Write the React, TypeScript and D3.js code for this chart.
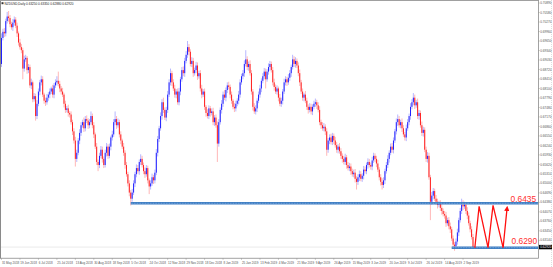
import React from "react";
import * as d3 from "d3";

// ---- data (prices in pips, i.e. price * 10000) ----
const title = "NZDUSD,Daily  0.63250 0.63350 0.62880 0.62920";
const firstOpen = 6890;
const closes = [
  6975, 6995, 6990, 7030, 7045, 7040, 7020, 7010, 7025, 7035,
  7015, 6990, 6960, 6945, 6935, 6875, 6905, 6910, 6870, 6880,
  6820, 6830, 6775, 6785, 6720, 6760, 6800, 6830, 6840, 6790,
  6770, 6765, 6780, 6790, 6800, 6810, 6790, 6820, 6830, 6835,
  6825, 6810, 6800, 6790, 6760, 6740, 6745, 6730, 6725, 6700,
  6670, 6640, 6580, 6600, 6640, 6665, 6690, 6700, 6680, 6710,
  6705, 6690, 6700, 6720, 6690, 6660, 6620, 6570, 6560, 6590,
  6610, 6580, 6560, 6600, 6620, 6590, 6620, 6650, 6660, 6700,
  6710, 6690, 6700, 6660, 6640, 6620, 6600, 6560, 6530, 6500,
  6470, 6450, 6470, 6500, 6530, 6550, 6540, 6570, 6580, 6560,
  6540, 6530, 6550, 6510, 6490, 6500, 6520, 6510, 6535, 6600,
  6645, 6680, 6720, 6765, 6740, 6715, 6740, 6790, 6830, 6860,
  6830, 6810, 6790, 6800, 6765, 6800, 6840, 6870, 6860, 6900,
  6920, 6945, 6930, 6890, 6900, 6860, 6870, 6885, 6850, 6860,
  6810, 6790, 6800, 6750, 6730, 6720, 6745, 6730, 6735, 6700,
  6715, 6690, 6630, 6700, 6740, 6760, 6790, 6780, 6805, 6820,
  6815, 6790, 6770, 6750, 6745, 6760, 6770, 6790, 6830, 6850,
  6860, 6890, 6905, 6880, 6890, 6860, 6800, 6750, 6735, 6745,
  6770, 6790, 6810, 6835, 6850, 6865, 6840, 6865, 6880, 6890,
  6870, 6830, 6815, 6800, 6810, 6780, 6760, 6770, 6800, 6830,
  6840, 6830, 6845, 6860, 6880, 6905, 6890, 6900, 6885, 6860,
  6830, 6800, 6780, 6790, 6770, 6750, 6740, 6750, 6735, 6750,
  6760, 6765, 6755, 6740, 6700, 6690, 6680, 6685, 6670, 6610,
  6640, 6650, 6635, 6655, 6640, 6625, 6610, 6620, 6605, 6590,
  6580, 6570, 6585, 6560, 6550, 6555, 6540, 6530, 6535, 6515,
  6505, 6520, 6530, 6515, 6525, 6545, 6540, 6560, 6570, 6560,
  6555, 6575, 6590, 6580, 6565, 6545, 6520, 6505, 6495, 6510,
  6540, 6560, 6580, 6600, 6620, 6610, 6640, 6670, 6700, 6710,
  6690, 6700, 6680, 6660, 6650, 6680, 6700, 6720, 6750, 6765,
  6780, 6755, 6765, 6720, 6730, 6690, 6665, 6675, 6610, 6580,
  6590, 6520, 6440, 6460, 6475, 6450, 6440, 6430, 6435, 6420,
  6410, 6400, 6395, 6370, 6380, 6360, 6350, 6320, 6300, 6295,
  6310, 6340, 6380, 6410, 6430, 6425, 6430, 6410, 6395, 6370,
  6350, 6325, 6292,
];
const upWick = [
  15, 10, 12, 8, 15, 18, 10, 8, 12, 10,
  8, 10, 6, 12, 10, 8, 12, 10, 6, 10,
  8, 12, 6, 10, 8, 12, 10, 8, 12, 10,
  6, 10, 12, 8, 10, 6, 12, 8, 10, 15,
  30, 10, 8, 12, 6, 10, 8, 12, 6, 10,
  8, 10, 12, 10, 8, 12, 10, 8, 15, 10,
  12, 8, 10, 15, 8, 10, 6, 12, 8, 10,
  12, 10, 8, 10, 12, 8, 10, 6, 12, 10,
  25, 10, 12, 8, 10, 6, 12, 8, 10, 8,
  10, 8, 12, 10, 8, 12, 10, 8, 15, 10,
  8, 12, 10, 8, 6, 10, 12, 8, 10, 12,
  10, 8, 12, 10, 15, 8, 10, 12, 10, 15,
  8, 10, 12, 8, 10, 12, 8, 10, 12, 10,
  12, 20, 10, 8, 12, 10, 8, 12, 10, 8,
  10, 12, 8, 10, 6, 12, 10, 8, 10, 12,
  8, 10, 12, 10, 8, 12, 10, 15, 8, 10,
  12, 8, 10, 6, 12, 10, 8, 12, 10, 8,
  10, 12, 30, 10, 8, 12, 10, 8, 12, 10,
  8, 10, 12, 8, 10, 12, 10, 8, 12, 10,
  8, 10, 12, 8, 10, 6, 12, 10, 8, 12,
  10, 8, 12, 10, 8, 15, 10, 12, 8, 10,
  12, 8, 10, 6, 12, 10, 8, 12, 10, 8,
  10, 12, 8, 10, 12, 8, 10, 12, 8, 10,
  8, 10, 12, 10, 8, 12, 10, 8, 12, 10,
  8, 10, 12, 8, 10, 12, 10, 8, 10, 12,
  8, 10, 12, 10, 8, 12, 10, 8, 12, 10,
  8, 12, 10, 8, 10, 12, 8, 10, 12, 10,
  8, 10, 12, 8, 10, 12, 10, 8, 12, 15,
  10, 8, 12, 10, 8, 12, 10, 8, 12, 10,
  15, 10, 8, 12, 10, 8, 12, 10, 8, 10,
  12, 10, 8, 12, 10, 8, 12, 10, 8, 10,
  12, 8, 10, 12, 8, 10, 12, 8, 10, 8,
  10, 12, 8, 10, 20, 15, 10, 8, 12, 10,
  8, 10, 10,
];
const downWick = [
  10, 8, 12, 10, 8, 12, 10, 8, 12, 10,
  8, 12, 10, 8, 10, 35, 10, 8, 12, 10,
  8, 12, 10, 8, 15, 10, 8, 12, 10, 8,
  10, 12, 8, 10, 12, 8, 10, 12, 8, 10,
  8, 12, 10, 8, 12, 10, 8, 12, 10, 8,
  12, 10, 25, 10, 8, 12, 10, 8, 12, 10,
  8, 12, 10, 8, 10, 12, 8, 10, 20, 10,
  8, 12, 10, 8, 12, 10, 8, 12, 10, 8,
  10, 12, 8, 10, 12, 8, 10, 12, 8, 10,
  12, 22, 10, 8, 12, 10, 8, 12, 10, 8,
  10, 12, 8, 10, 25, 10, 8, 12, 10, 8,
  12, 10, 8, 12, 10, 8, 12, 10, 8, 10,
  12, 8, 10, 12, 8, 10, 12, 8, 10, 12,
  8, 10, 12, 8, 10, 12, 8, 10, 12, 8,
  10, 12, 8, 10, 12, 8, 10, 12, 8, 10,
  12, 8, 60, 10, 8, 12, 10, 8, 12, 10,
  8, 12, 10, 8, 12, 10, 8, 12, 10, 8,
  10, 12, 8, 10, 12, 8, 10, 12, 8, 10,
  12, 8, 10, 12, 8, 10, 30, 8, 10, 12,
  8, 10, 12, 8, 10, 12, 8, 10, 12, 8,
  10, 12, 8, 10, 12, 8, 10, 12, 8, 10,
  12, 8, 10, 12, 8, 10, 12, 8, 10, 12,
  8, 10, 12, 8, 10, 12, 8, 10, 12, 20,
  10, 12, 8, 10, 12, 8, 10, 12, 8, 10,
  12, 8, 10, 12, 8, 10, 12, 8, 10, 12,
  25, 10, 12, 8, 10, 12, 8, 10, 12, 8,
  10, 12, 8, 10, 12, 8, 10, 12, 15, 10,
  12, 8, 10, 12, 8, 10, 12, 8, 10, 12,
  8, 10, 12, 8, 10, 12, 8, 10, 12, 8,
  10, 12, 8, 10, 12, 8, 10, 12, 8, 10,
  12, 8, 60, 10, 12, 8, 10, 12, 8, 10,
  12, 8, 10, 12, 8, 10, 12, 8, 10, 15,
  8, 10, 12, 8, 10, 12, 8, 10, 12, 8,
  10, 8, 4,
];

// levels and projected path
const levelHigh = 0.6435;
const levelLow = 0.629;
const levelHighStart = 91;
const levelLowStart = 317;
const bidPrice = 0.6292;
const bidLabel = "0.62920";
const zigIdx = [333.3, 336.3, 342.6, 346.1, 353.2, 356];
const zigPrice = [0.629, 0.6425, 0.629, 0.6428, 0.629, 0.642];

// axis ticks
const priceTicks = [
  0.7089, 0.7058, 0.7027, 0.6996, 0.6965, 0.6934, 0.6903, 0.6872, 0.6841,
  0.681, 0.6779, 0.6748, 0.6717, 0.6686, 0.6655, 0.6624, 0.6593, 0.6562,
  0.6531, 0.65, 0.6469, 0.6438, 0.6407, 0.6376, 0.6345, 0.6314,
];
const dateTickIdx = [
  0, 13, 26, 39, 52, 65, 78, 91, 104, 117, 130, 143, 156, 169, 182, 195, 208,
  221, 234, 247, 260, 273, 286, 299, 312, 325,
];
const dateTickLabels = [
  "31 May 2018", "19 Jun 2018", "6 Jul 2018", "25 Jul 2018", "13 Aug 2018",
  "30 Aug 2018", "18 Sep 2018", "5 Oct 2018", "24 Oct 2018", "12 Nov 2018",
  "29 Nov 2018", "18 Dec 2018", "8 Jan 2019", "25 Jan 2019", "13 Feb 2019",
  "4 Mar 2019", "21 Mar 2019", "9 Apr 2019", "26 Apr 2019", "15 May 2019",
  "3 Jun 2019", "20 Jun 2019", "9 Jul 2019", "26 Jul 2019", "14 Aug 2019",
  "2 Sep 2019",
];

const W = 553;
const H = 267;
const PL = 0.5;
const PT = 0.5;
const PR = 538.5;
const PB = 258.3;
const BULL = "#1010ff";
const BEAR = "#ff1010";
const FONT = "'Liberation Sans', Arial, sans-serif";

export default function App() {
  const y = d3.scaleLinear().domain([levelHigh, levelLow]).range([203.3, 247.7]);
  const x = d3.scaleLinear().domain([0, closes.length - 1]).range([1.5, 473]);

  const candles = closes.map((c, i) => {
    const o = i === 0 ? firstOpen : closes[i - 1];
    const hi = Math.max(o, c) + upWick[i];
    const lo = Math.min(o, c) - downWick[i];
    return { i, o: o / 1e4, c: c / 1e4, h: hi / 1e4, l: lo / 1e4 };
  });

  const zig = d3
    .line<number>()
    .x((d) => x(zigIdx[d]))
    .y((d) => y(zigPrice[d]))(zigIdx.map((_, k) => k));

  const by = y(bidPrice);

  return (
    <svg
      width={W}
      height={H}
      style={{ position: "absolute", left: 0, top: 0, background: "#fff" }}
      fontFamily={FONT}
    >
      <defs>
        <marker
          id="arr"
          viewBox="0 0 10 10"
          refX="6"
          refY="5"
          markerWidth="4"
          markerHeight="4"
          orient="auto"
        >
          <path d="M0,0 L10,5 L0,10 z" fill="#ff1010" />
        </marker>
        <clipPath id="plot">
          <rect x={PL} y={PT} width={PR - PL} height={PB - PT} />
        </clipPath>
      </defs>
      <rect x={0} y={0} width={W} height={H} fill="#fff" />

      {/* bid line */}
      <line
        x1={PL}
        x2={PR}
        y1={by}
        y2={by}
        stroke="#b8b8b8"
        strokeWidth={0.6}
        strokeDasharray="1,1"
      />

      <g clipPath="url(#plot)">
        {candles.map((d) => {
          const col = d.c >= d.o ? BULL : BEAR;
          const cx = x(d.i);
          const top = y(Math.max(d.o, d.c));
          const bot = y(Math.min(d.o, d.c));
          return (
            <g key={d.i}>
              <line
                x1={cx}
                x2={cx}
                y1={y(d.h)}
                y2={y(d.l)}
                stroke={col}
                strokeOpacity={0.3}
                strokeWidth={1}
              />
              <rect
                x={cx - 0.5}
                y={top}
                width={1}
                height={Math.max(0.6, bot - top)}
                fill={col}
                fillOpacity={0.9}
              />
            </g>
          );
        })}

        {/* horizontal levels */}
        {[
          { p: levelHigh, s: levelHighStart },
          { p: levelLow, s: levelLowStart },
        ].map((lv) => (
          <g key={lv.p}>
            <line
              x1={x(lv.s)}
              x2={PR}
              y1={y(lv.p)}
              y2={y(lv.p)}
              stroke="#3d7dc3"
              strokeWidth={2.6}
            />
            <line
              x1={x(lv.s)}
              x2={PR}
              y1={y(lv.p)}
              y2={y(lv.p)}
              stroke="#a8c8ec"
              strokeWidth={0.6}
              strokeDasharray="0.8,0.8"
            />
          </g>
        ))}

        {/* projection zigzag */}
        <path
          d={zig || ""}
          fill="none"
          stroke="#ff1010"
          strokeWidth={1.3}
          strokeLinejoin="miter"
          markerEnd="url(#arr)"
        />
      </g>

      {/* level labels */}
      <text x={510.5} y={y(levelHigh) - 1.6} fontSize={8.4} fill="#ff3030">
        {levelHigh.toFixed(4)}
      </text>
      <text x={511.5} y={y(levelLow) - 3.8} fontSize={8.4} fill="#ff3030">
        {levelLow.toFixed(4)}
      </text>

      {/* frame */}
      <line x1={PL} x2={PL} y1={0} y2={PB} stroke="#8a8a8a" strokeWidth={1} />
      <line x1={0} x2={PR} y1={PT} y2={PT} stroke="#a0a0a0" strokeWidth={1} />
      <line x1={PR} x2={PR} y1={0} y2={PB} stroke="#8a8a8a" strokeWidth={0.8} />
      <line x1={0} x2={PR} y1={PB} y2={PB} stroke="#8a8a8a" strokeWidth={0.8} />
      <line
        x1={551.5}
        x2={551.5}
        y1={0}
        y2={H}
        stroke="#c8c8c8"
        strokeWidth={0.6}
        strokeDasharray="1,1"
      />

      {/* title */}
      <rect x={1.5} y={2.2} width={2} height={2} fill="#333" />
      <text x={4.6} y={5} fontSize={3.1} fill="#222">
        {title}
      </text>

      {/* price axis */}
      {priceTicks.map((t) => (
        <g key={t}>
          <line x1={PR} x2={PR + 1.2} y1={y(t)} y2={y(t)} stroke="#8a8a8a" strokeWidth={0.5} />
          <text x={540.2} y={y(t) + 1.1} fontSize={3.1} fill="#555">
            {t.toFixed(5)}
          </text>
        </g>
      ))}
      <rect x={539} y={by - 2.2} width={13} height={4.4} fill="#000" />
      <text x={540.2} y={by + 1.1} fontSize={3.1} fill="#fff">
        {bidLabel}
      </text>

      {/* time axis */}
      {dateTickIdx.map((idx, k) => (
        <g key={idx}>
          <line x1={x(idx)} x2={x(idx)} y1={PB} y2={PB + 1.5} stroke="#8a8a8a" strokeWidth={0.5} />
          <text x={x(idx) + 0.4} y={264.3} fontSize={3} fill="#555">
            {dateTickLabels[k]}
          </text>
        </g>
      ))}
    </svg>
  );
}
